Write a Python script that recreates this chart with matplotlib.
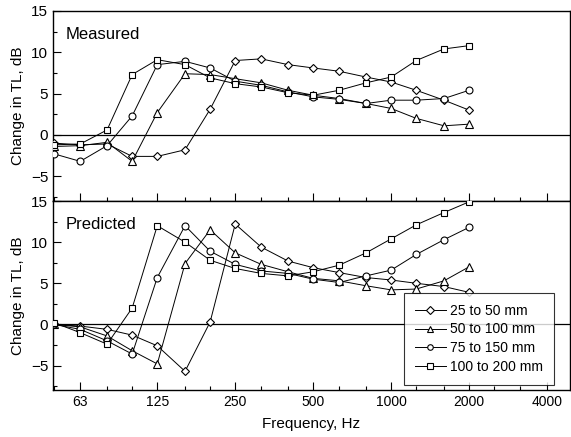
import matplotlib
matplotlib.use('Agg')
import matplotlib.pyplot as plt
from matplotlib.ticker import FixedLocator, NullFormatter, MultipleLocator

plt.rcParams['font.family'] = ['Liberation Sans', 'DejaVu Sans']

# third-octave band centre frequencies, Hz
freqs = [50, 63, 80, 100, 125, 160, 200, 250, 315, 400, 500, 630, 800, 1000, 1250, 1600, 2000]

labels = ['25 to 50 mm', '50 to 100 mm', '75 to 150 mm', '100 to 200 mm']

# measured change in TL, dB
meas_25_50 = [-1.0, -1.2, -1.1, -2.6, -2.6, -1.8, 3.1, 9.0, 9.2, 8.5, 8.1, 7.7, 7.0, 6.4, 5.4, 4.2, 3.0]
meas_50_100 = [-1.4, -1.3, -0.9, -3.2, 2.7, 7.4, 7.3, 6.8, 6.3, 5.4, 4.8, 4.4, 3.8, 3.2, 2.0, 1.1, 1.3]
meas_75_150 = [-2.3, -3.2, -1.3, 2.3, 8.5, 8.9, 8.1, 6.5, 6.0, 5.2, 4.6, 4.3, 3.8, 4.2, 4.2, 4.4, 5.4]
meas_100_200 = [-1.2, -1.1, 0.6, 7.3, 9.1, 8.5, 6.9, 6.2, 5.8, 5.1, 4.8, 5.4, 6.3, 7.0, 9.0, 10.4, 10.8]

# predicted change in TL, dB
pred_25_50 = [0.0, -0.2, -0.6, -1.3, -2.6, -5.7, 0.3, 12.2, 9.4, 7.7, 6.9, 6.3, 5.7, 5.4, 5.0, 4.6, 3.9]
pred_50_100 = [0.0, -0.3, -1.4, -3.2, -4.8, 7.4, 11.5, 8.7, 7.3, 6.4, 5.6, 5.3, 4.7, 4.2, 4.3, 5.3, 7.0]
pred_75_150 = [0.0, -0.6, -2.0, -3.6, 5.7, 12.0, 8.9, 7.3, 6.5, 6.2, 5.5, 5.1, 5.9, 6.6, 8.5, 10.3, 11.8]
pred_100_200 = [0.2, -1.0, -2.4, 2.0, 12.0, 10.0, 7.8, 6.8, 6.2, 5.9, 6.4, 7.2, 8.7, 10.4, 12.1, 13.6, 14.9]

major_ticks = [63, 125, 250, 500, 1000, 2000, 4000]
minor_ticks = [50, 80, 100, 160, 200, 315, 400, 630, 800, 1250, 1600, 2500, 3150]

markers = ['D', '^', 'o', 's']
msizes = [4.5, 5.5, 5, 5]

fig = plt.figure(figsize=(5.71, 4.37), dpi=100)
ax1 = fig.add_axes([0.093, 0.540, 0.905, 0.435])
ax2 = fig.add_axes([0.093, 0.107, 0.905, 0.433])


def draw_panel(ax, series, title):
    ax.axhline(0, color='k', lw=0.9, zorder=1)
    for vals, m, ms, lab in zip(series, markers, msizes, labels):
        ax.plot(freqs, vals, color='k', lw=0.7, marker=m, ms=ms,
                mfc='white', mec='k', mew=0.8, label=lab, zorder=3)
    ax.set_xscale('log')
    ax.set_xlim(49.5, 4900)
    ax.set_ylim(-8, 15)
    ax.xaxis.set_major_locator(FixedLocator(major_ticks))
    ax.xaxis.set_minor_locator(FixedLocator(minor_ticks))
    ax.xaxis.set_minor_formatter(NullFormatter())
    ax.yaxis.set_major_locator(FixedLocator([-5, 0, 5, 10, 15]))
    ax.yaxis.set_minor_locator(MultipleLocator(2.5))
    ax.tick_params(which='both', direction='in')
    ax.tick_params(axis='y', labelsize=11)
    ax.tick_params(axis='x', labelsize=10)
    ax.tick_params(which='major', length=6, width=0.8)
    ax.tick_params(which='minor', length=3, width=0.8)
    for sp in ax.spines.values():
        sp.set_linewidth(1.0)
    ax.set_ylabel('Change in TL, dB', fontsize=11, labelpad=4)
    ax.text(0.025, 0.85, title, transform=ax.transAxes, fontsize=12)


draw_panel(ax1, [meas_25_50, meas_50_100, meas_75_150, meas_100_200], 'Measured')
draw_panel(ax2, [pred_25_50, pred_50_100, pred_75_150, pred_100_200], 'Predicted')

ax1.tick_params(axis='x', labelbottom=False)
ax2.set_xticklabels([str(t) for t in major_ticks])
ax2.set_xlabel('Frequency, Hz', fontsize=11, labelpad=6)

leg = ax2.legend(loc='lower right', bbox_to_anchor=(0.969, 0.026), borderaxespad=0,
                 fontsize=10, frameon=True, fancybox=False, edgecolor='k',
                 handlelength=2.2, handletextpad=0.3, labelspacing=0.35,
                 borderpad=0.8, markerscale=0.8)
leg.get_frame().set_linewidth(0.8)
leg.set_zorder(5)

fig.savefig('out.png', dpi=100)
